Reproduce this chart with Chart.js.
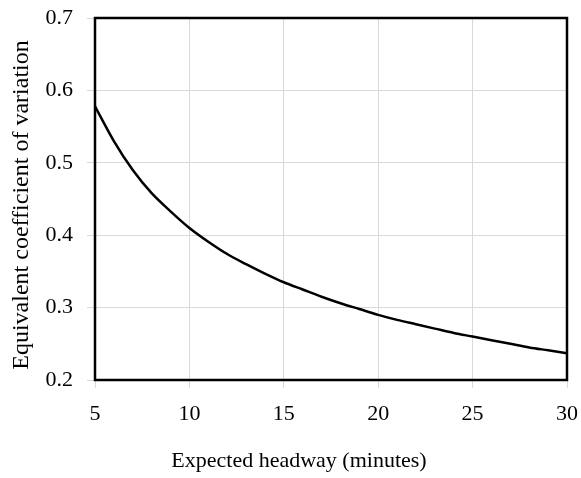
<!DOCTYPE html>
<html>
<head>
<meta charset="utf-8">
<script src="https://cdn.jsdelivr.net/npm/chart.js@4/dist/chart.umd.min.js"></script>
<style>
html,body{margin:0;padding:0;background:#fff;}
#wrap{width:581px;height:478px;position:relative;}
</style>
</head>
<body>
<div id="wrap"><canvas id="c" width="581" height="478"></canvas></div>
<script>
const headway = [5,6,7,8,9,10,11,12,13,14,15,16,17,18,19,20,21,22,23,24,25,26,27,28,29,30];
const cov = [0.578,0.530,0.490,0.458,0.433,0.410,0.391,0.374,0.360,0.347,0.335,0.325,0.315,0.306,0.298,0.290,0.283,0.277,0.271,0.265,0.260,0.255,0.250,0.245,0.241,0.237];
const xTicks = [5,10,15,20,25,30];
const yTicks = [0.2,0.3,0.4,0.5,0.6,0.7];
const xTitle = 'Expected headway (minutes)';
const yTitle = 'Equivalent coefficient of variation';

const FONT = '"Liberation Serif", "Times New Roman", serif';

const frame = {
  id: 'frame',
  afterDatasetsDraw(chart) {
    const a = chart.chartArea, ctx = chart.ctx;
    ctx.save();
    ctx.strokeStyle = '#000';
    ctx.lineWidth = 2.5;
    ctx.strokeRect(a.left, a.top, a.right - a.left, a.bottom - a.top);
    ctx.restore();
  },
  afterDraw(chart) {
    const ctx = chart.ctx;
    ctx.save();
    ctx.fillStyle = '#000';
    ctx.textAlign = 'center';
    ctx.textBaseline = 'middle';
    ctx.font = '22px ' + FONT;
    ctx.fillText(xTitle, 299, 461);
    ctx.font = '24px ' + FONT;
    ctx.translate(22, 205);
    ctx.rotate(-Math.PI / 2);
    ctx.fillText(yTitle, 0, 0);
    ctx.restore();
  }
};

function noPad(s) { s.paddingTop = 0; s.paddingBottom = 0; s.paddingLeft = 0; s.paddingRight = 0; }

new Chart(document.getElementById('c'), {
  type: 'line',
  data: {
    datasets: [{
      data: headway.map((h, i) => ({x: h, y: cov[i]})),
      borderColor: '#000',
      borderWidth: 2.5,
      pointRadius: 0,
      fill: false,
      cubicInterpolationMode: 'monotone'
    }]
  },
  options: {
    responsive: false,
    animation: false,
    layout: {padding: {top: 18, right: 14, left: 0, bottom: 0}},
    plugins: {legend: {display: false}, tooltip: {enabled: false}},
    scales: {
      x: {
        type: 'linear', min: 5, max: 30,
        afterBuildTicks(s) { s.ticks = xTicks.map(v => ({value: v})); },
        afterFit(s) { s.height = 98; noPad(s); },
        grid: {color: '#d9d9d9', lineWidth: 1, drawTicks: true, tickLength: 8, tickColor: '#d9d9d9'},
        border: {display: false},
        ticks: {color: '#000', font: {family: FONT, size: 22}, padding: 13, maxRotation: 0,
                callback: v => String(v)}
      },
      y: {
        type: 'linear', min: 0.2, max: 0.7,
        afterBuildTicks(s) { s.ticks = yTicks.map(v => ({value: v})); },
        afterFit(s) { s.width = 95; noPad(s); },
        grid: {color: '#d9d9d9', lineWidth: 1, drawTicks: true, tickLength: 8, tickColor: '#d9d9d9'},
        border: {display: false},
        ticks: {color: '#000', font: {family: FONT, size: 22}, padding: 14,
                callback: v => v.toFixed(1)}
      }
    }
  },
  plugins: [frame]
});
</script>
</body>
</html>
